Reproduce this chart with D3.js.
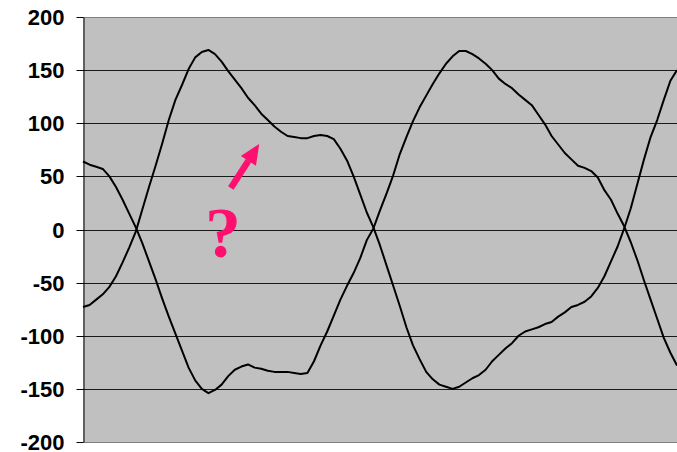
<!DOCTYPE html>
<html>
<head>
<meta charset="utf-8">
<script src="https://cdn.jsdelivr.net/npm/d3@7"></script>
<style>
  html, body { margin: 0; padding: 0; background: #ffffff; overflow: hidden; }
  svg { display: block; }
</style>
</head>
<body>
<svg id="chart" width="677" height="452"></svg>
<script>
// Two phase signals sampled at a fixed rate (sample index 0..90)
const phaseA = [
  -73, -71, -66, -61, -54, -44, -31, -17, -2, 19,
  40, 60, 81, 103, 122, 136, 151, 162, 167, 169,
  165, 158, 149, 141, 133, 124, 117, 109, 103, 97,
  92, 88, 87, 86, 86, 88, 89, 88, 85, 76,
  65, 50, 33, 16, 2, -15, -34, -53, -72, -92,
  -109, -122, -134, -141, -146, -148, -150, -148, -144, -140,
  -137, -132, -124, -118, -112, -107, -100, -96, -94, -92,
  -89, -87, -82, -78, -73, -71, -68, -63, -55, -44,
  -30, -16, 1, 20, 43, 66, 87, 103, 122, 140,
  150
];
const phaseB = [
  64, 61, 59, 57, 50, 40, 28, 15, 2, -13,
  -30, -47, -65, -82, -98, -114, -130, -142, -150, -154,
  -151, -146, -138, -132, -129, -127, -130, -131, -133, -134,
  -134, -134, -135, -136, -135, -124, -109, -96, -81, -66,
  -53, -41, -27, -10, 1, 18, 34, 51, 71, 87,
  102, 115, 126, 137, 147, 156, 163, 168, 168, 165,
  161, 156, 150, 142, 137, 133, 127, 122, 117, 108,
  99, 88, 80, 72, 66, 60, 58, 55, 49, 37,
  28, 15, 3, -12, -29, -48, -66, -84, -102, -116,
  -128
];
const yTicks = [-200, -150, -100, -50, 0, 50, 100, 150, 200];

// Annotation: arrow (sample, value) from tail to tip, and the question mark anchor
const arrowTail = [22.4, 39];
const arrowTip = [26.7, 80.5];
const questionAt = [21.2, -26];

const svg = d3.select("#chart");
const plotLeft = 83, plotRight = 677, plotTop = 17, plotBottom = 442;

const x = d3.scaleLinear().domain([0, phaseA.length - 1]).range([plotLeft, plotRight]);
const y = d3.scaleLinear().domain([-200, 200]).range([plotBottom, plotTop]);
const crisp = v => Math.round(v) + 0.5;

// plot area
svg.append("rect")
  .attr("x", plotLeft).attr("y", plotTop)
  .attr("width", 700 - plotLeft).attr("height", plotBottom - plotTop)
  .attr("fill", "#c0c0c0");

// horizontal gridlines
svg.append("g").selectAll("line")
  .data(yTicks.filter(t => t > -200 && t < 200))
  .join("line")
  .attr("x1", plotLeft).attr("x2", 700)
  .attr("y1", d => crisp(y(d))).attr("y2", d => crisp(y(d)))
  .attr("stroke", "#1a1a1a").attr("stroke-width", 1);

// plot border top/bottom
svg.append("g").selectAll("line")
  .data([200, -200])
  .join("line")
  .attr("x1", plotLeft).attr("x2", 700)
  .attr("y1", d => crisp(y(d))).attr("y2", d => crisp(y(d)))
  .attr("stroke", "#808080").attr("stroke-width", 1);

// value axis (plain hyphen for negatives)
const axis = d3.axisLeft(y).tickValues(yTicks).tickFormat(d => String(d))
  .tickSize(7).tickSizeOuter(0).tickPadding(12);
const ga = svg.append("g").attr("transform", `translate(${plotLeft + 0.5},0)`).call(axis);
ga.select(".domain").attr("stroke", "#000");
ga.selectAll(".tick line").attr("stroke", "#000");
ga.selectAll(".tick").attr("transform", d => `translate(0,${crisp(y(d))})`);
ga.selectAll(".tick text")
  .attr("font-family", "'Liberation Sans', Arial, sans-serif")
  .attr("font-weight", "bold")
  .attr("font-size", 22)
  .attr("fill", "#000")
  .attr("dy", "0.34em");

// signal traces
const line = d3.line().x((d, i) => x(i)).y(d => y(d));
[phaseA, phaseB].forEach(series => {
  svg.append("path")
    .datum(series)
    .attr("d", line)
    .attr("fill", "none")
    .attr("stroke", "#000")
    .attr("stroke-width", 2)
    .attr("stroke-linejoin", "round");
});

// annotation arrow
const pink = "#ff0f6e";
const tx = x(arrowTail[0]), ty = y(arrowTail[1]);
const hx = x(arrowTip[0]), hy = y(arrowTip[1]);
const ang = Math.atan2(hy - ty, hx - tx);
const headLen = 20, headHalf = 9;
const bx = hx - headLen * Math.cos(ang), by = hy - headLen * Math.sin(ang);
svg.append("line")
  .attr("x1", tx).attr("y1", ty).attr("x2", bx).attr("y2", by)
  .attr("stroke", pink).attr("stroke-width", 6.5);
svg.append("path")
  .attr("d", d3.line()([
    [hx, hy],
    [bx + headHalf * Math.sin(ang), by - headHalf * Math.cos(ang)],
    [bx - headHalf * Math.sin(ang), by + headHalf * Math.cos(ang)]
  ]) + "Z")
  .attr("fill", pink);

svg.append("text")
  .attr("x", x(questionAt[0])).attr("y", y(questionAt[1]))
  .attr("text-anchor", "middle")
  .attr("font-family", "'Liberation Serif', 'Times New Roman', serif")
  .attr("font-weight", "bold")
  .attr("font-size", 72)
  .attr("fill", pink)
  .text("?");
</script>
</body>
</html>
